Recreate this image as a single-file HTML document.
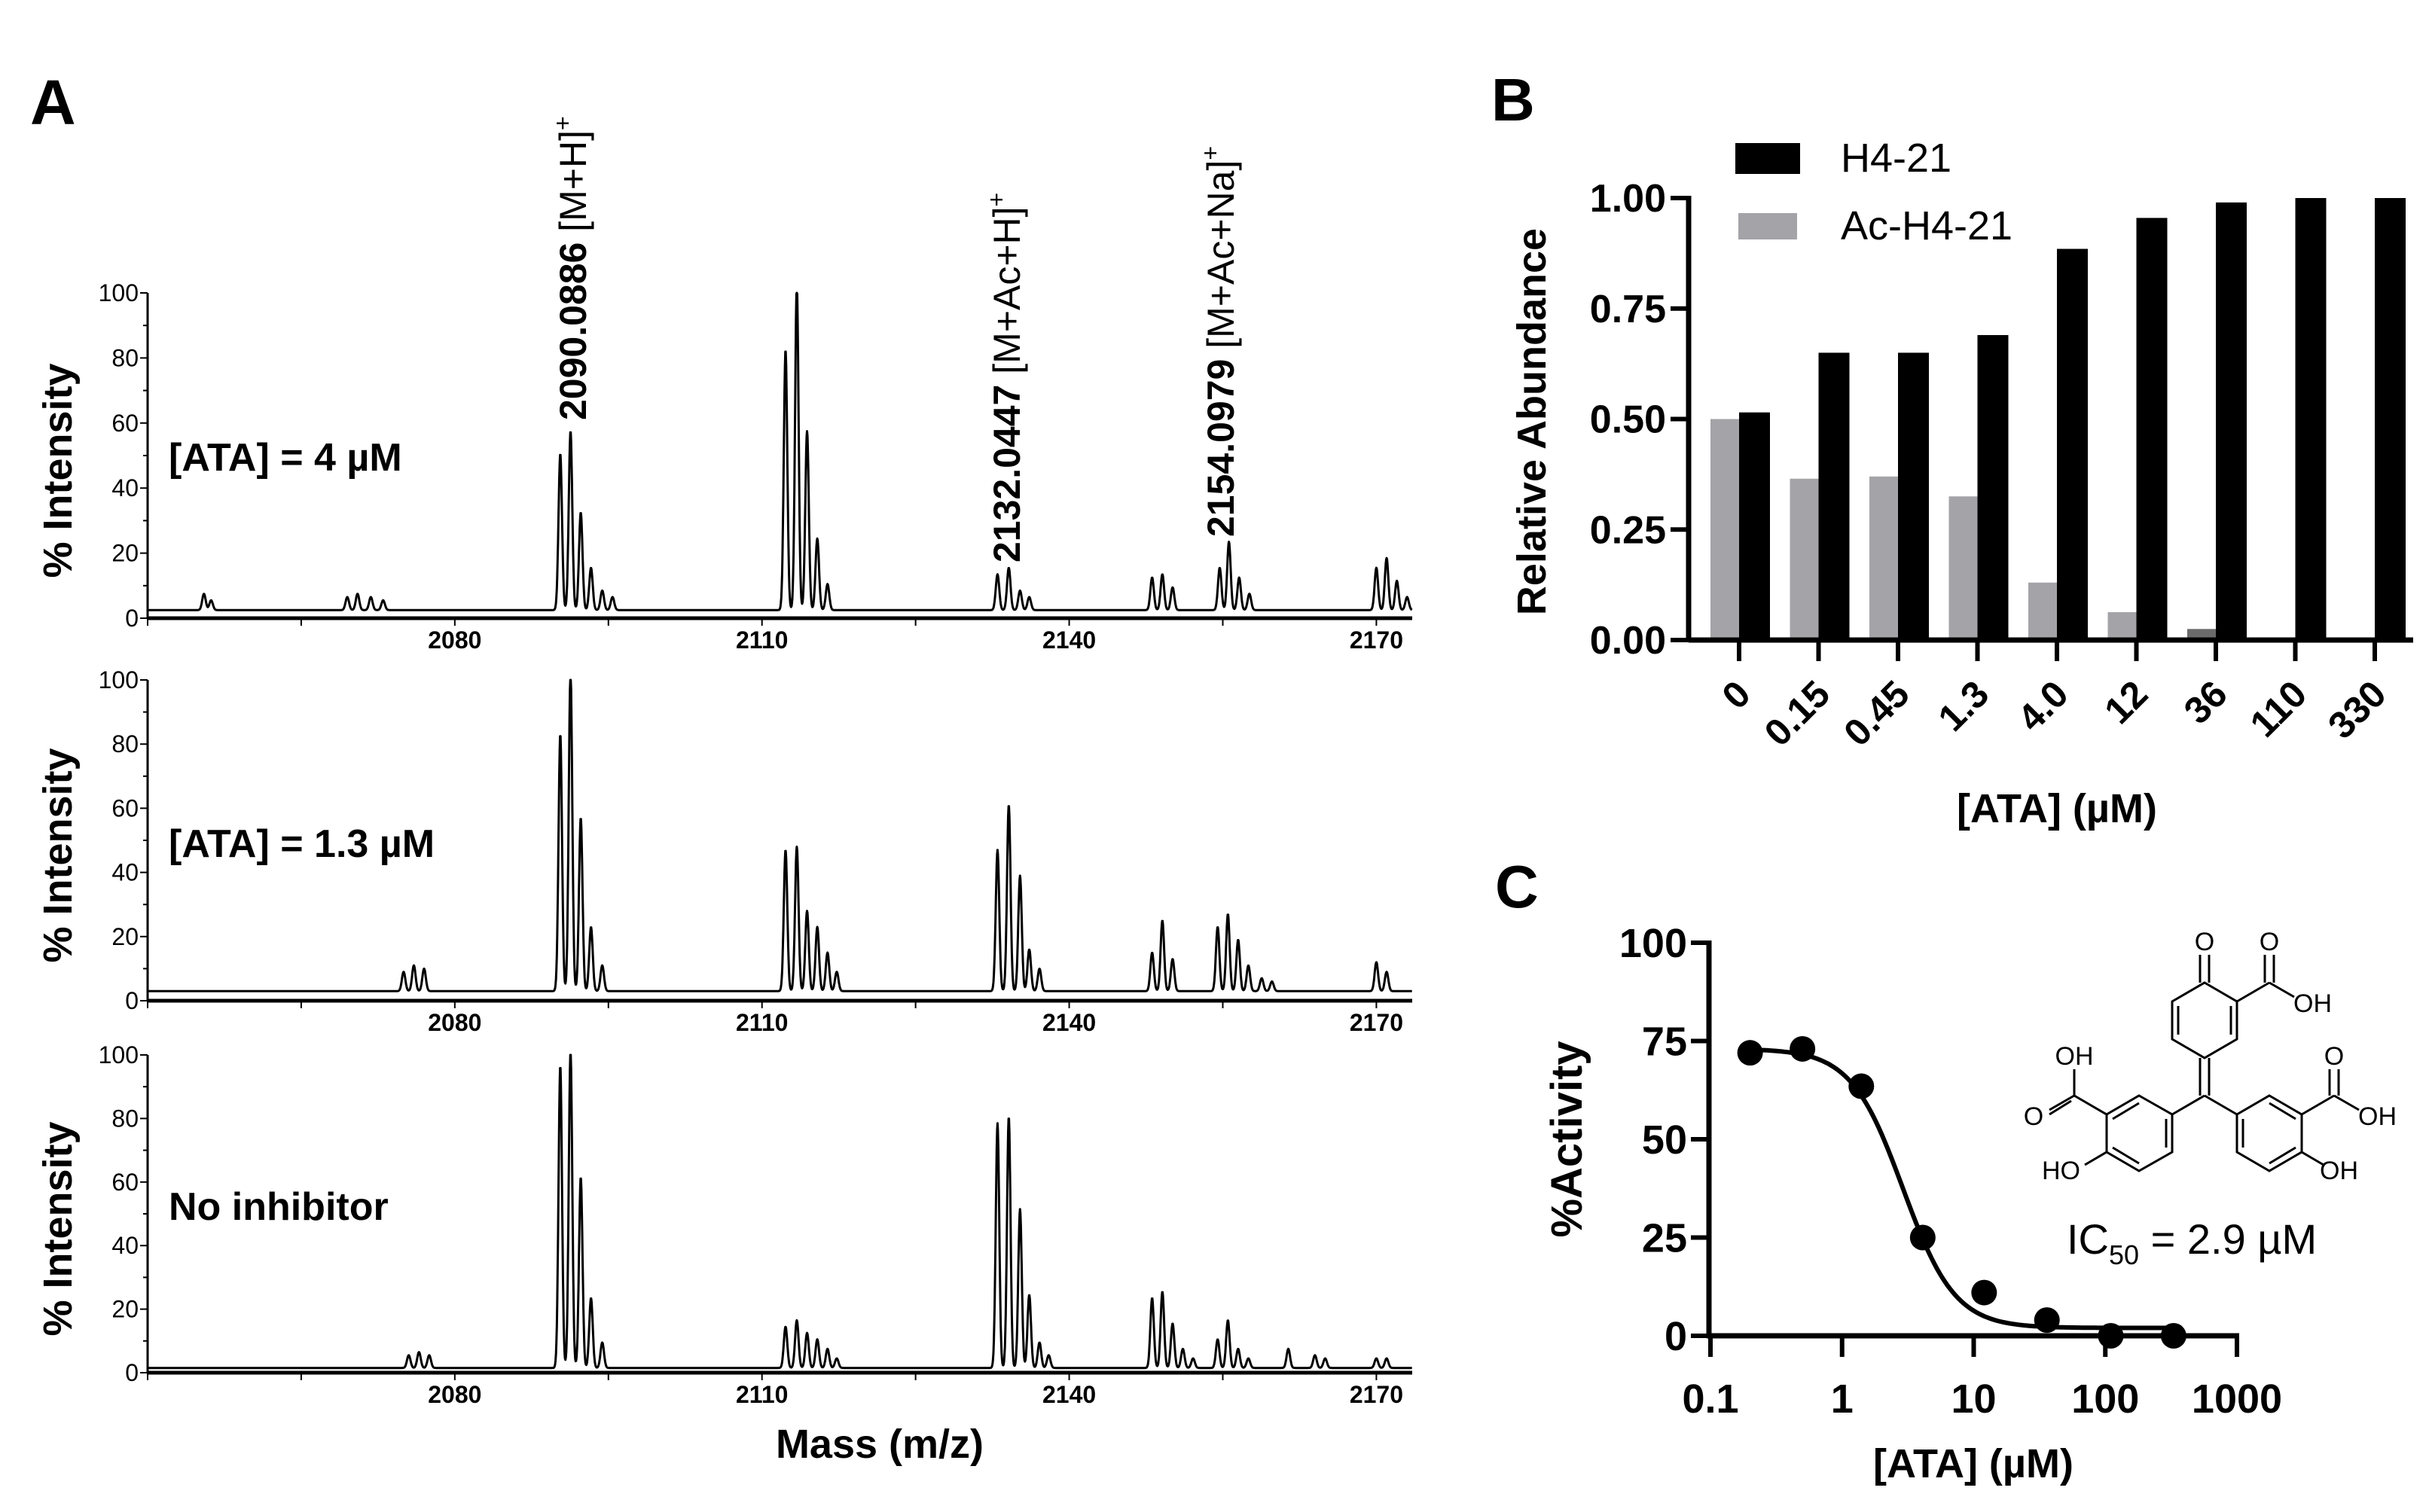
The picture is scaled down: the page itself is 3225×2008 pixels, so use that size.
<!DOCTYPE html>
<html><head><meta charset="utf-8"><style>
html,body{margin:0;padding:0;background:#fff;}
svg{display:block;font-family:"Liberation Sans",sans-serif;}
.b{font-weight:bold;}
.n{font-family:"Liberation Sans Narrow","Liberation Sans",sans-serif;}
</style></head><body>
<svg id="fig" width="3225" height="2008" viewBox="0 0 3225 2008" xmlns="http://www.w3.org/2000/svg">
<text x="40" y="165" font-size="84" class="b">A</text>
<text x="1980" y="160" font-size="80" class="b">B</text>
<text x="1985" y="1205" font-size="80" class="b">C</text>

<text transform="translate(778,558) rotate(-90)" font-size="50"><tspan class="b">2090.0886</tspan> [M+H]<tspan font-size="32" dy="-20">+</tspan></text>
<text transform="translate(1354,747) rotate(-90)" font-size="50"><tspan class="b">2132.0447</tspan> [M+Ac+H]<tspan font-size="32" dy="-20">+</tspan></text>
<text transform="translate(1638,713) rotate(-90)" font-size="50"><tspan class="b">2154.0979</tspan> [M+Ac+Na]<tspan font-size="32" dy="-20">+</tspan></text>

<text x="224" y="625" font-size="52" class="b">[ATA] = 4 µM</text>
<text x="224" y="1138" font-size="52" class="b">[ATA] = 1.3 µM</text>
<text x="224" y="1620" font-size="52" class="b">No inhibitor</text>
<text x="1168" y="1936" font-size="54" class="b" text-anchor="middle">Mass (m/z)</text>

<g id="specs"></g>
<g id="barB"></g>
<g id="curveC"></g>

<g stroke="#000" stroke-width="3" fill="none">
<polygon points="2927,1305 2970,1330 2970,1380 2927,1405 2884,1380 2884,1330"/>
<line x1="2892" y1="1336" x2="2892" y2="1374"/><line x1="2962" y1="1336" x2="2962" y2="1374"/>
<line x1="2921" y1="1305" x2="2921" y2="1268"/><line x1="2933" y1="1305" x2="2933" y2="1268"/>
<line x1="2970" y1="1330" x2="3013" y2="1305"/><line x1="3007" y1="1305" x2="3007" y2="1268"/><line x1="3019" y1="1305" x2="3019" y2="1268"/><line x1="3013" y1="1305" x2="3046" y2="1324"/>
<line x1="2921" y1="1405" x2="2921" y2="1455"/><line x1="2933" y1="1405" x2="2933" y2="1455"/>
<line x1="2927" y1="1455" x2="2884" y2="1480"/><line x1="2927" y1="1455" x2="2970" y2="1480"/>
<polygon points="2840,1455 2884,1480 2884,1530 2840,1555 2797,1530 2797,1480"/>
<line x1="2876" y1="1486" x2="2876" y2="1524"/><line x1="2805" y1="1486" x2="2840" y2="1465"/><line x1="2805" y1="1524" x2="2840" y2="1545"/>
<line x1="2797" y1="1480" x2="2754" y2="1455"/><line x1="2754" y1="1455" x2="2754" y2="1420"/><line x1="2754" y1="1455" x2="2721" y2="1474"/><line x1="2750" y1="1462" x2="2721" y2="1480"/>
<line x1="2797" y1="1530" x2="2768" y2="1547"/>
<polygon points="3013,1455 3056,1480 3056,1530 3013,1555 2970,1530 2970,1480"/>
<line x1="2978" y1="1486" x2="2978" y2="1524"/><line x1="3048" y1="1486" x2="3013" y2="1465"/><line x1="3048" y1="1524" x2="3013" y2="1545"/>
<line x1="3056" y1="1480" x2="3099" y2="1455"/><line x1="3093" y1="1455" x2="3093" y2="1420"/><line x1="3105" y1="1455" x2="3105" y2="1420"/><line x1="3099" y1="1455" x2="3132" y2="1474"/>
<line x1="3056" y1="1530" x2="3085" y2="1547"/>
</g>
<g font-size="34" fill="#000">
<text x="2927" y="1262" text-anchor="middle">O</text>
<text x="3013" y="1262" text-anchor="middle">O</text>
<text x="3045" y="1344">OH</text>
<text x="2754" y="1414" text-anchor="middle">OH</text>
<text x="2700" y="1494" text-anchor="middle">O</text>
<text x="2762" y="1566" text-anchor="end">HO</text>
<text x="3099" y="1414" text-anchor="middle">O</text>
<text x="3131" y="1494">OH</text>
<text x="3080" y="1566">OH</text>
</g>
<text x="2744" y="1665" font-size="56">IC<tspan font-size="36" dy="14">50</tspan><tspan dy="-14"> = 2.9 µM</tspan></text>
</svg>
<script>
var NS="http://www.w3.org/2000/svg";
function mk(tag,attrs,parent){var e=document.createElementNS(NS,tag);for(var k in attrs)e.setAttribute(k,attrs[k]);parent.appendChild(e);return e;}

// ---------- Panel A data ----------
var specTicksX=[2080,2110,2140,2170];
var specTicksY=[0,20,40,60,80,100];
var peaks4uM=[[2055.5,5],[2056.2,3],[2069.5,4],[2070.5,5],[2071.8,4],[2073,3],[2090.3,48],[2091.3,55],[2092.3,30],[2093.3,13],[2094.4,6],[2095.4,4],[2112.3,80],[2113.4,100],[2114.4,55],[2115.4,22],[2116.4,8],[2133.0,11],[2134.1,13],[2135.2,6],[2136.1,4],[2148.1,10],[2149.1,11],[2150.1,7],[2154.7,13],[2155.6,21],[2156.6,10],[2157.6,5],[2170,13],[2171,16],[2172,9],[2173,4]];
var peaks1p3uM=[[2075,6],[2076,8],[2077,7],[2090.3,80],[2091.3,100],[2092.3,54],[2093.3,20],[2094.4,8],[2112.3,44],[2113.4,45],[2114.4,25],[2115.4,20],[2116.4,12],[2117.3,6],[2133.0,44],[2134.1,58],[2135.2,36],[2136.1,13],[2137.1,7],[2148.1,12],[2149.1,22],[2150.1,10],[2154.5,20],[2155.5,24],[2156.5,16],[2157.5,8],[2158.8,4],[2159.8,3],[2170,9],[2171,6]];
var peaksNone=[[2075.5,4],[2076.5,5],[2077.5,4],[2090.3,95],[2091.3,100],[2092.3,60],[2093.3,22],[2094.4,8],[2112.3,13],[2113.4,15],[2114.4,11],[2115.4,9],[2116.4,6],[2117.3,3],[2133.0,77],[2134.1,79],[2135.2,50],[2136.1,23],[2137.1,8],[2138.0,4],[2148.1,22],[2149.1,24],[2150.1,14],[2151.1,6],[2152.1,3],[2154.5,9],[2155.5,15],[2156.5,6],[2157.5,3],[2161.4,6],[2164,4],[2165,3],[2170,3],[2171,3]];
var baselines=[2.5,3,1.5];

var panels=[{top:389,base:821,peaks:peaks4uM,name:'4um'},{top:903,base:1329,peaks:peaks1p3uM,name:'1-3um'},{top:1401,base:1823,peaks:peaksNone,name:'no-inhibitor'}];
var AX0=196,AX1=1875,MZ0=2050,MZ1=2173.5;
function sx(m){return AX0+(m-MZ0)/(MZ1-MZ0)*(AX1-AX0);}
var specs=document.getElementById('specs');
panels.forEach(function(p,i){
  function sy(v){return p.base-(v/100)*(p.base-p.top);}
  var g=mk('g',{},specs);
  
  
  var pts=[];
  for(var m=MZ0;m<=MZ1;m+=0.04){
    var v=baselines[i];
    p.peaks.forEach(function(pk){var d=(m-pk[0])/0.17;v+=pk[1]*Math.exp(-0.5*d*d);});
    pts.push(sx(m).toFixed(1)+','+sy(Math.min(v,100)).toFixed(1));
  }
  var line=mk('polyline',{points:pts.join(' '),fill:'none',stroke:'#000','stroke-width':3,'stroke-linejoin':'round'},g);
  
  
  mk('line',{x1:AX0,y1:p.top,x2:AX0,y2:p.base,stroke:'#000','stroke-width':3},g);
  mk('line',{x1:AX0,y1:p.base,x2:AX1,y2:p.base,stroke:'#000','stroke-width':5},g);
  for(var t=0;t<=100;t+=10){mk('line',{x1:AX0-(t%20==0?10:6),y1:sy(t),x2:AX0,y2:sy(t),stroke:'#000','stroke-width':2},g);}
  specTicksY.forEach(function(t){var tx=mk('text',{x:AX0-12,y:sy(t)+11,'font-size':32,'text-anchor':'end','class':'n'},g);tx.textContent=t;});
  for(var m2=MZ0;m2<=MZ1;m2+=15){mk('line',{x1:sx(m2),y1:p.base,x2:sx(m2),y2:p.base+10,stroke:'#000','stroke-width':2},g);}
  specTicksX.forEach(function(t){var tx=mk('text',{x:sx(t),y:p.base+40,'font-size':32,'text-anchor':'middle','class':'n b'},g);tx.textContent=t;});
  var yt=mk('text',{transform:'translate(95,'+((p.top+p.base)/2+20)+') rotate(-90)','font-size':54,'text-anchor':'middle','class':'b'},g);
  yt.textContent='% Intensity';
  
  
});

// ---------- Panel B data ----------
var bCategories=['0','0.15','0.45','1.3','4.0','12','36','110','330'];
var bH421=[0.515,0.65,0.65,0.69,0.885,0.955,0.99,1.0,1.0];
var bAcH421=[0.50,0.365,0.37,0.325,0.13,0.063,0.025,0,0];
var bTicks=['0.00','0.25','0.50','0.75','1.00'];
var BX0=2242,BX1=3204,BY0=850,BY1=263,BC0=2309,BSTEP=105.5;
function byv(v){return BY0-v*(BY0-BY1);}
function bxc(i){return BC0+i*BSTEP;}
var gb=document.getElementById('barB');


bCategories.forEach(function(c,i){
  var r1=mk('rect',{x:bxc(i)-38,y:byv(bAcH421[i]),width:38,height:BY0-byv(bAcH421[i]),fill:(i==6?'#6b6b6b':'#a3a3a8')},gb);
  
  
  var r2=mk('rect',{x:bxc(i),y:byv(bH421[i]),width:41,height:BY0-byv(bH421[i]),fill:'#000'},gb);
  
  
  mk('line',{x1:bxc(i),y1:BY0,x2:bxc(i),y2:BY0+28,stroke:'#000','stroke-width':6},gb);
  var tl=mk('text',{transform:'translate('+(bxc(i)+18)+',925) rotate(-45)','font-size':50,'text-anchor':'end','class':'b'},gb);
  tl.textContent=c;
});
mk('line',{x1:BX0,y1:BY1-3,x2:BX0,y2:BY0+3,stroke:'#000','stroke-width':7},gb);
mk('line',{x1:BX0,y1:BY0,x2:BX1,y2:BY0,stroke:'#000','stroke-width':7},gb);
bTicks.forEach(function(t){var v=parseFloat(t);mk('line',{x1:BX0-24,y1:byv(v),x2:BX0,y2:byv(v),stroke:'#000','stroke-width':6},gb);
  var tx=mk('text',{x:BX0-30,y:byv(v)+18,'font-size':52,'text-anchor':'end','class':'b'},gb);tx.textContent=t;});
var by=mk('text',{transform:'translate(2052,560) rotate(-90)','font-size':54,'text-anchor':'middle','class':'b'},gb);by.textContent='Relative Abundance';


var bx=mk('text',{x:2731,y:1092,'font-size':54,'text-anchor':'middle','class':'b'},gb);bx.textContent='[ATA] (µM)';


var l1=mk('rect',{x:2304,y:190,width:86,height:41,fill:'#000'},gb);


var l1t=mk('text',{x:2444,y:228,'font-size':54},gb);l1t.textContent='H4-21';


var l2=mk('rect',{x:2308,y:283,width:78,height:35,fill:'#a3a3a8'},gb);


var l2t=mk('text',{x:2444,y:318,'font-size':54},gb);l2t.textContent='Ac-H4-21';



// ---------- Panel C data ----------
var cConc=[0.2,0.5,1.4,4.1,12,36,110,330];
var cActivity=[72,73,63.5,25,11,4,0,0];
var cXTicks=['0.1','1','10','100','1000'];
var cYTicks=['0','25','50','75','100'];
var fitTop=73,fitBottom=2,fitIC50=2.9,fitHill=2.2;
var CX0=2271,CDEC=174.75,CY0=1774,CY1=1252;
function cx(c){return CX0+Math.log10(c/0.1)*CDEC;}
function cy(v){return CY0-v/100*(CY0-CY1);}
var gc=document.getElementById('curveC');


mk('line',{x1:2269,y1:CY1-3,x2:2269,y2:CY0+3,stroke:'#000','stroke-width':7},gc);
mk('line',{x1:2266,y1:CY0,x2:2973,y2:CY0,stroke:'#000','stroke-width':7},gc);
cYTicks.forEach(function(t){var v=+t;mk('line',{x1:2245,y1:cy(v),x2:2269,y2:cy(v),stroke:'#000','stroke-width':6},gc);
  var tx=mk('text',{x:2240,y:cy(v)+19,'font-size':54,'text-anchor':'end','class':'b n'},gc);tx.textContent=t;});
cXTicks.forEach(function(t){var v=parseFloat(t);mk('line',{x1:cx(v),y1:CY0,x2:cx(v),y2:CY0+28,stroke:'#000','stroke-width':6},gc);
  var tx=mk('text',{x:cx(v),y:1876,'font-size':54,'text-anchor':'middle','class':'b n'},gc);tx.textContent=t;});
var cpts=[];
for(var lc=Math.log10(0.2);lc<=Math.log10(330)+0.001;lc+=0.02){var c=Math.pow(10,lc);var v=fitBottom+(fitTop-fitBottom)/(1+Math.pow(c/fitIC50,fitHill));cpts.push(cx(c).toFixed(1)+','+cy(v).toFixed(1));}
var fl=mk('polyline',{points:cpts.join(' '),fill:'none',stroke:'#000','stroke-width':6},gc);


cConc.forEach(function(c,i){var d=mk('circle',{cx:cx(c),cy:cy(cActivity[i]),r:17,fill:'#000'},gc);
  
  });
var cyT=mk('text',{transform:'translate(2100,1513) rotate(-90)','font-size':58,'text-anchor':'middle','class':'b'},gc);cyT.textContent='%Activity';


var cxT=mk('text',{x:2620,y:1962,'font-size':54,'text-anchor':'middle','class':'b'},gc);cxT.textContent='[ATA] (µM)';


</script>
</body></html>
